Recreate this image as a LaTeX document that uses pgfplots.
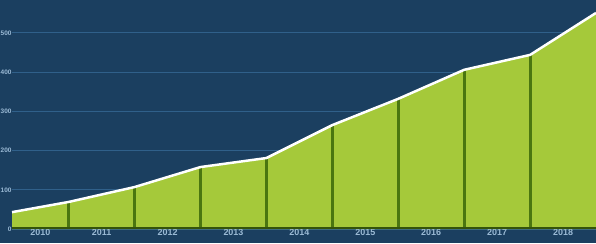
\documentclass[border=0pt]{standalone}
\usepackage{pgfplots}
\pgfplotsset{compat=1.18}
\usepackage{fontspec}
\setmainfont{Liberation Sans}
\definecolor{bg}{HTML}{1B3F60}
\definecolor{gridc}{HTML}{30608A}
\definecolor{areag}{HTML}{A5C93A}
\definecolor{divg}{HTML}{4A7610}
\definecolor{lab}{HTML}{9BBAD5}
\begin{document}
\begin{tikzpicture}[x=1bp,y=1bp]
\useasboundingbox (0,0) rectangle (596,243);
\fill[bg] (0,0) rectangle (596,243);
\begin{axis}[
  at={(12bp,14bp)}, anchor=south west,
  scale only axis, width=584bp, height=229bp,
  xmin=0.14, xmax=9, ymin=0, ymax=5.84,
  axis line style={draw=none},
  major tick length=0pt,
  ymajorgrids, grid style={gridc, line width=1pt},
  ytick={0,1,2,3,4,5},
  yticklabels={0,100,200,300,400,500},
  yticklabel style={font=\bfseries\fontsize{6.5}{6.5}\selectfont, text=lab, xshift=3bp},
  xtick={0.57,1.5,2.5,3.5,4.5,5.5,6.5,7.5,8.5},
  xticklabels={2010,2011,2012,2013,2014,2015,2016,2017,2018},
  xticklabel style={font=\bfseries\fontsize{9}{9}\selectfont, text=lab, yshift=3.5bp},
  clip=false,
]
\addplot[fill=areag, draw=none] coordinates {
 (0.14,0.43) (1,0.69) (2,1.07) (3,1.58) (4,1.81) (5,2.65) (6,3.32) (7,4.06) (8,4.44) (9,5.51)
} \closedcycle;
\addplot[ycomb, divg, line width=3pt, forget plot] coordinates {
 (1,0.69) (2,1.07) (3,1.58) (4,1.81) (5,2.65) (6,3.32) (7,4.06) (8,4.44)
};
\addplot[divg!70!black, line width=2pt] coordinates {(0.14,0.02) (9,0.02)};
\addplot[white, line width=2.5pt, line join=round] coordinates {
 (0.14,0.43) (1,0.69) (2,1.07) (3,1.58) (4,1.81) (5,2.65) (6,3.32) (7,4.06) (8,4.44) (9,5.51)
};
\end{axis}
\end{tikzpicture}
\end{document}
